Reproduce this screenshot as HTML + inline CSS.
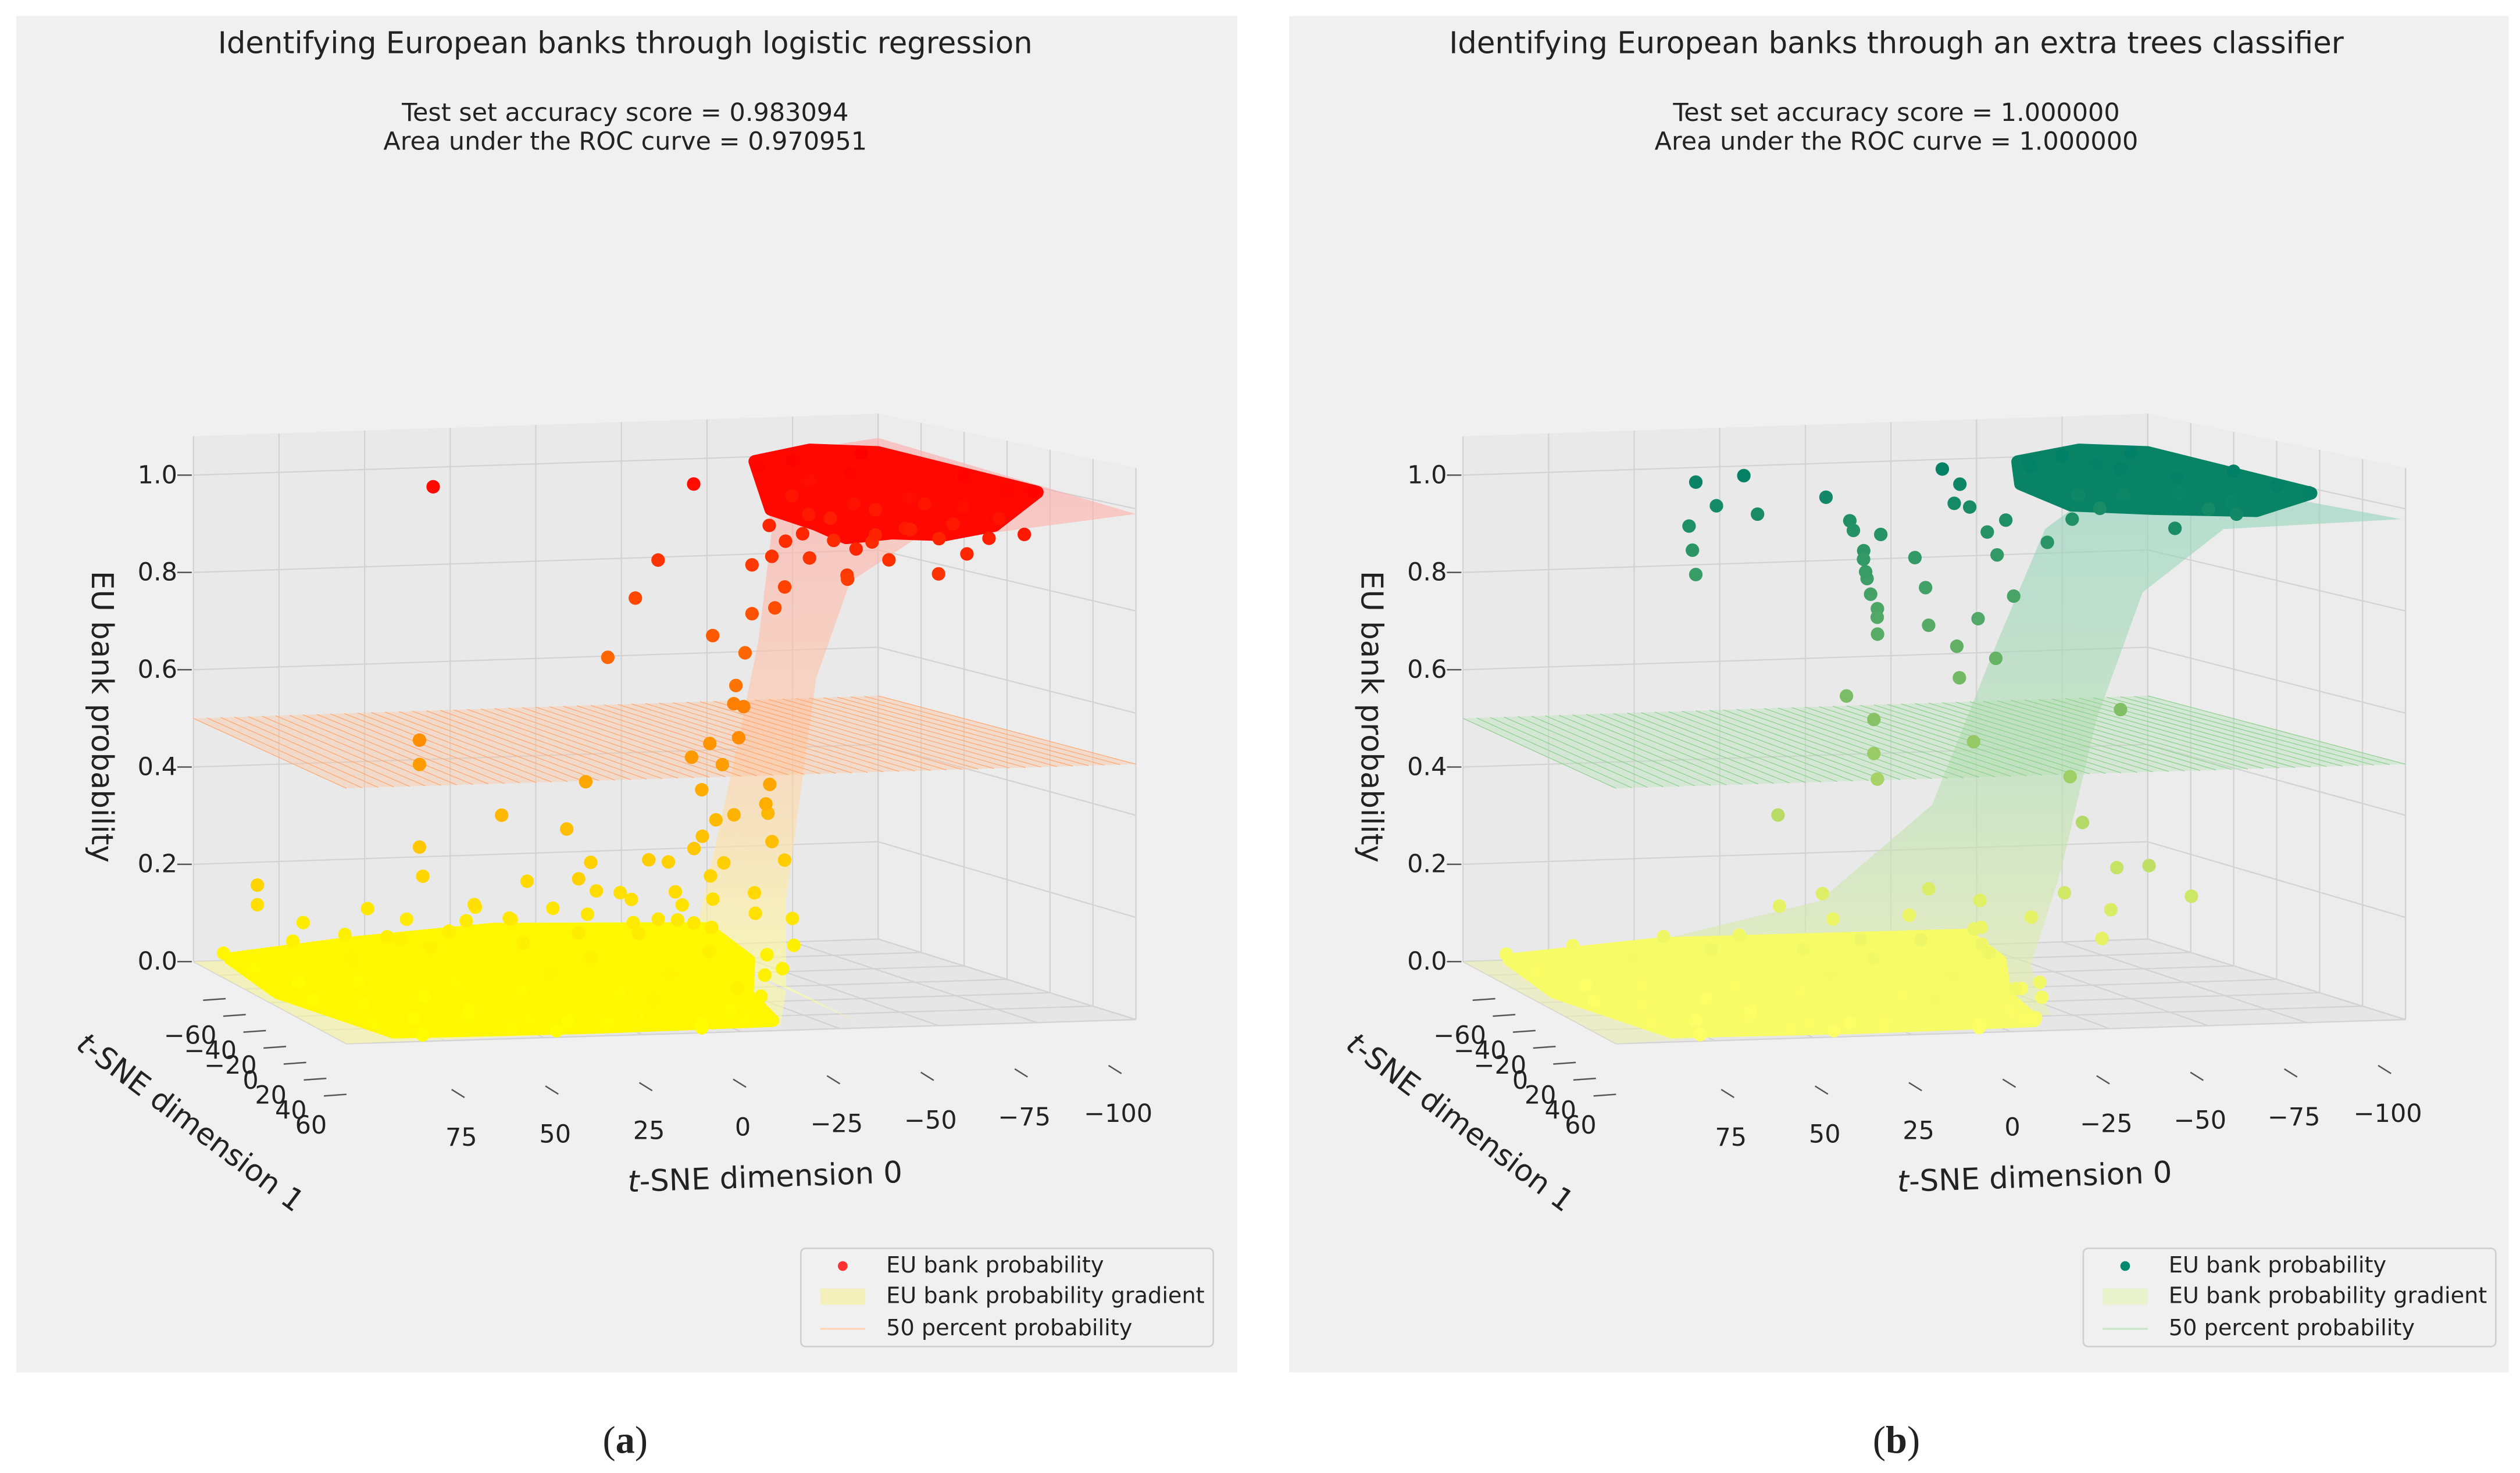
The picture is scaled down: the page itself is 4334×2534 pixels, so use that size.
<!DOCTYPE html>
<html><head><meta charset="utf-8"><title>European banks 3D classifiers</title>
<style>html,body{margin:0;padding:0;background:#fff}svg{display:block}text{font-family:"DejaVu Sans","Liberation Sans",sans-serif;fill:#222}</style></head>
<body>
<svg id="fig" xmlns="http://www.w3.org/2000/svg" width="4334" height="2534" viewBox="0 0 1564 914.5">
<defs>
<linearGradient id="ribA" x1="0" y1="290" x2="0" y2="610" gradientUnits="userSpaceOnUse"><stop offset="0" stop-color="#ffaaaa"/><stop offset="0.5" stop-color="#ffc8a8"/><stop offset="1" stop-color="#ffff9a"/></linearGradient>
<linearGradient id="ribB" x1="0" y1="300" x2="0" y2="620" gradientUnits="userSpaceOnUse"><stop offset="0" stop-color="#8fd2bf"/><stop offset="0.6" stop-color="#b9e0b0"/><stop offset="1" stop-color="#e6f0a8"/></linearGradient>
</defs>
<rect x="10" y="10" width="758" height="842" fill="#f0f0f0"/>
<rect x="800" y="10" width="757" height="842" fill="#f0f0f0"/>
<g id="pa"></g>
<g id="pb"></g>
<text x="388" y="33" font-size="18.5" text-anchor="middle">Identifying European banks through logistic regression</text>
<text x="388" y="75" font-size="15.5" text-anchor="middle">Test set accuracy score = 0.983094</text>
<text x="388" y="93" font-size="15.5" text-anchor="middle">Area under the ROC curve = 0.970951</text>
<text x="1177" y="33" font-size="18.5" text-anchor="middle">Identifying European banks through an extra trees classifier</text>
<text x="1177" y="75" font-size="15.5" text-anchor="middle">Test set accuracy score = 1.000000</text>
<text x="1177" y="93" font-size="15.5" text-anchor="middle">Area under the ROC curve = 1.000000</text>
<text x="388" y="902" font-size="24" text-anchor="middle" style="font-family:'Liberation Serif',serif">(<tspan font-weight="bold">a</tspan>)</text>
<text x="1177" y="902" font-size="24" text-anchor="middle" style="font-family:'Liberation Serif',serif">(<tspan font-weight="bold">b</tspan>)</text>
</svg>
<script>
// ---- data (t-SNE dim0, t-SNE dim1, probability) ----
const x0Ticks=[100,75,50,25,0,-25,-50,-75,-100];
const x0TickLabels=["","75","50","25","0","\u221225","\u221250","\u221275","\u2212100"];
const x1Ticks=[-60,-40,-20,0,20,40,60];
const x1TickLabels=["\u221260","\u221240","\u221220","0","20","40","60"];
const zTicks=[0,0.2,0.4,0.6,0.8,1.0];
const zTickLabels=["0.0","0.2","0.4","0.6","0.8","1.0"];

const logitPoints=[
[-65,-60,.98],[-75,-60,.99],[-85,-60,.97],[-95,-60,1],[-70,-45,.96],[-80,-40,.98],[-90,-30,.97],[-100,-20,.99],[-100,0,.98],[-100,12,.99],[-95,-10,.96],[-85,-20,.95],[-75,-30,.93],[-68,-40,.9],[-72,-50,.85],[-66,-55,.8],[-80,-50,.88],[-90,-45,.9],[-98,-35,.92],[-88,0,.95],[-78,-10,.9],[-70,-20,.85],[-95,5,.93],[-100,8,.9],[-92,-5,.85],[-82,-25,.82],[-76,-35,.78],[-64,-50,.7],[-60,-58,.6],[-90,-15,.8],[-96,-25,.86],[-86,-40,.84],[-73,-57,.92],[-79,-58,.95],
[-67,-58,.86],[-70,-55,.83],[-74,-50,.8],[-78,-45,.84],[-84,-35,.86],[-88,-25,.88],[-94,-15,.9],[-98,-5,.88],[-62,-58,.78],[-68,-52,.74],[-82,-45,.76],
[30,-60,.96],[-45,-58,.95],[-33,-55,.8],[-20,-58,.6],[-55,-55,.5],[-28,-58,.72],[-62,-58,.68],
[-45,-48,.65],[-50,-45,.55],[-55,-50,.5],[-48,-40,.45],[-40,-50,.4],[-58,-42,.35],[-44,-35,.3],[-52,-30,.25],[-38,-45,.22],[-60,-38,.2],[-46,-28,.15],[-42,-20,.12],[-55,-25,.1],[-35,-30,.08],[-50,-15,.06],[-40,-10,.05],[-62,-50,.28],[-36,-55,.18],[-30,-40,.14],[-25,-45,.2],[-20,-30,.1],[-48,-55,.42],[-53,-35,.32],
[-44,-52,.33],[-47,-50,.27],[-42,-48,.24],[-50,-52,.38],[-46,-44,.19],[-40,-40,.17],[-38,-35,.13],[-33,-42,.11],[-28,-35,.09],
[34,-60,.44],[34,-60,.39],[33,-60,.16],[34,-60,.22],[86,-48,.17],[86,-48,.13],[10,-60,.28],[5,-55,.15],[-8,-58,.25],[-12,-55,.35],[-15,-58,.18],[-22,-55,.12],[20,-55,.1],[12,-50,.08],[40,-55,.08],[25,-45,.12],[60,-50,.06],[-5,-40,.1],[0,-35,.18],
[70,-55,.08],[50,-58,.1],[30,-50,.06],[15,-45,.09],[-10,-45,.14],[-18,-40,.08],[45,-48,.05],
[92,-35,.02],[85,-20,.01],[78,-35,.03],[72,-10,.02],[66,-30,.04],[60,5,.01],[55,-25,.03],[48,-5,.02],[42,-35,.05],[36,10,.02],[30,-20,.03],[24,0,.04],[18,-30,.06],[12,15,.02],[6,-15,.05],[0,-35,.07],[-6,5,.04],[-12,-25,.08],[-18,20,.03],[-24,-10,.06],[-30,-30,.09],[-34,10,.05],
[90,5,.01],[82,20,.02],[74,35,.01],[68,15,.03],[62,40,.02],[56,25,.01],[50,50,.02],[44,30,.03],[38,45,.01],[32,55,.02],[26,35,.03],[20,50,.02],[14,40,.04],[8,55,.01],[2,30,.03],[-4,45,.02],[-10,35,.05],[-8,55,.02],[-14,40,.04],[-22,25,.06],[-10,48,.03],
[88,45,.02],[80,58,.01],[70,52,.03],[58,60,.02],[46,58,.01],[34,60,.02],[22,58,.03],[10,60,.01],[-2,58,.02],[-6,60,.03],
[95,-50,.03],[75,-50,.05],[50,-45,.06],[25,-50,.08],[0,-50,.1],[-20,-45,.12]
];
const treesPoints=[
[-65,-60,.99],[-75,-60,1],[-85,-60,.98],[-95,-60,1],[-70,-45,.97],[-80,-40,.99],[-90,-30,.98],[-100,-20,1],[-100,0,.99],[-100,15,.99],[-95,-10,.97],[-85,-20,.96],[-75,-30,.95],[-68,-40,.94],[-88,0,.96],[-92,-5,.93],[-80,-50,.9],[-72,-50,.88],[-96,-25,.92],[-78,-10,.9],
[32,-60,.97],[18,-60,.98],[34,-60,.88],[33,-60,.83],[32,-60,.78],[26,-60,.92],[14,-60,.9],[-6,-60,.93],
[-13,-60,.88],[-16,-58,.82],[-18,-60,.76],[-20,-58,.7],[-22,-60,.85],[-15,-55,.78],[-19,-56,.65],[-32,-60,.8],[-34,-58,.74],[-36,-60,.66],
[-14,-60,.86],[-17,-60,.8],[-18,-58,.73],[-21,-60,.68],
[-40,-60,.98],[-44,-58,.95],[-48,-60,.9],[-52,-58,.85],[-56,-60,.8],[-58,-55,.72],[-46,-52,.68],[-42,-56,.62],[-50,-50,.6],[-54,-52,.88],[-38,-50,.92],[-60,-50,.99],[-62,-45,.84],
[-12,-60,.52],[-20,-60,.47],[-20,-60,.4],[8,-60,.28],[-20,-58,.35],[-45,-60,.55],[-48,-58,.42],[-80,-40,.5],[-60,-30,.38],
[-58,-20,.3],[-62,-10,.22],[-55,0,.15],[-60,10,.25],[-50,5,.1],[-45,-5,.18],[-66,20,.2],[-40,-40,.12],[-35,-30,.08],[-30,-20,.06],[-28,-45,.14],[-25,-50,.08],[-48,-28,.1],
[10,-55,.1],[0,-50,.13],
[90,-30,.02],[82,-15,.01],[76,-35,.03],[70,-5,.02],[64,-28,.04],[58,8,.01],[52,-22,.03],[46,-2,.02],[40,-32,.05],[34,12,.02],[28,-18,.03],[22,2,.04],[16,-28,.05],[10,18,.02],[4,-12,.05],[-2,-32,.06],[-8,8,.04],[-14,-22,.07],[-20,22,.03],[-26,-8,.06],[-32,-28,.08],
[88,8,.01],[80,22,.02],[72,38,.01],[66,18,.03],[60,42,.02],[54,28,.01],[48,52,.02],[42,32,.03],[36,48,.01],[30,56,.02],[24,38,.03],[18,52,.02],[12,42,.04],[6,56,.01],[0,32,.03],[-6,46,.02],[-12,36,.05],[-8,56,.02],[-16,42,.04],[-22,28,.05],
[86,46,.02],[78,58,.01],[68,54,.03],[56,60,.02],[44,58,.01],[32,60,.02],[20,58,.03],[8,60,.01],[-4,58,.02],
[92,-48,.03],[72,-50,.04],[48,-45,.06],[24,-50,.05],[-2,-48,.08]
];
// dense-region outlines
const logitYellowArea=[[96,-42,.03],[60,-45,.05],[20,-44,.07],[-40,-42,.06],[-35,-10,.04],[-15,30,.03],[-8,60,.02],[40,62,.02],[88,60,.02],[98,0,.02]];
const logitRedArea=[[-64,-60,.99],[-80,-60,1.01],[-100,-60,1],[-100,14,.99],[-92,8,.92],[-86,-5,.89],[-80,-20,.88],[-74,-32,.86],[-70,-40,.88],[-64,-52,.9]];
const treesYellowArea=[[94,-40,.03],[50,-42,.05],[-36,-40,.05],[-30,-10,.04],[-12,30,.03],[-6,60,.02],[40,62,.02],[86,60,.02],[96,0,.02]];
const treesGreenArea=[[-62,-60,.99],[-80,-60,1.01],[-100,-60,1],[-100,16,.99],[-90,8,.95],[-78,-20,.93],[-66,-40,.92],[-60,-55,.95]];
// fitted probability surfaces (edge profiles)
const logitSurface=[[-46,-60,0],[-58,-60,.38],[-65,-60,.62],[-69,-60,.85],[-65,-60,1],[-100,-60,1.03],[-100,60,.99],[-80,30,.93],[-64,20,.91],[-47,20,.83],[-38,20,.64],[-34,20,.42],[-30,20,.2],[-30,20,.03],[-30,60,.01]];
const logitFloor=[[100,-60,0],[-45,-60,0],[-30,20,.02],[-10,60,.01],[100,60,0]];
const treesSurface=[[57,-60,.01],[-4,-60,.1],[-37,-60,.29],[-56,-60,.62],[-70,-60,.85],[-84,-60,.92],[-100,-60,.96],[-99,60,.98],[-64,40,.95],[-43,40,.83],[-31,40,.58],[-22,40,.29],[-14,40,.1],[-10,60,.03],[60,60,.02]];
const treesFloor=[[100,-60,0],[57,-60,0],[60,60,.01],[100,60,0]];

const NS='http://www.w3.org/2000/svg';
function proj(x0,x1,p,dx){
  const u=(100-x0)/200, v=(x1+60)/120;
  const bx=120+425*u, by=597-14*u, fx=215+490*u, fy=648-15*u;
  return [bx+(fx-bx)*v+dx, by+(fy-by)*v-p*302*(1+0.05*v)];
}
function mk(tag,parent,attrs){const e=document.createElementNS(NS,tag);for(const k in attrs)e.setAttribute(k,attrs[k]);parent.appendChild(e);return e;}
function poly(arr,dx){return arr.map(d=>proj(d[0],d[1],d[2],dx).map(n=>n.toFixed(1)).join(',')).join(' ');}
function line(g,a,b,col,w){return mk('line',g,{x1:a[0],y1:a[1],x2:b[0],y2:b[1],stroke:col,'stroke-width':w});}

function drawPanel(g,dx,cfg){
  const ZM=1.08;
  let e;
  e=mk('polygon',g,{points:poly([[100,-60,0],[-100,-60,0],[-100,-60,ZM],[100,-60,ZM]],dx),fill:'#e9e9e9'});
  
  
  e=mk('polygon',g,{points:poly([[-100,-60,0],[-100,60,0],[-100,60,ZM],[-100,-60,ZM]],dx),fill:'#ececec'});
  
  
  e=mk('polygon',g,{points:poly([[100,-60,0],[-100,-60,0],[-100,60,0],[100,60,0]],dx),fill:'#e6e6e6'});
  
  
  const grid=mk('g',g,{});
  
  
  const gc='#d2d2d2';
  x0Ticks.forEach(t=>{line(grid,proj(t,-60,0,dx),proj(t,-60,ZM,dx),gc,.8);line(grid,proj(t,-60,0,dx),proj(t,60,0,dx),gc,.8);});
  x1Ticks.forEach(t=>{line(grid,proj(-100,t,0,dx),proj(-100,t,ZM,dx),gc,.8);line(grid,proj(100,t,0,dx),proj(-100,t,0,dx),gc,.8);});
  zTicks.forEach(t=>{line(grid,proj(100,-60,t,dx),proj(-100,-60,t,dx),gc,.8);line(grid,proj(-100,-60,t,dx),proj(-100,60,t,dx),gc,.8);});
  zTicks.forEach((t,i)=>{const p=proj(100,-60,t,dx);line(g,[p[0]-10,p[1]],[p[0]-1,p[1]],'#555',.9);
    const tx=mk('text',g,{x:p[0]-10,y:p[1]+5,'font-size':15.5,'text-anchor':'end'});tx.textContent=zTickLabels[i];
    
    });
  x0Ticks.forEach((t,i)=>{if(!x0TickLabels[i])return;const lx=461-t*2.33+dx, ly=700+0.085*t;
    line(g,[lx-6,ly-30],[lx+2,ly-25],'#555',.9);
    const tx=mk('text',g,{x:lx,y:ly+5,'font-size':15.5,'text-anchor':'middle'});tx.textContent=x0TickLabels[i];
    
    });
  x1Ticks.forEach((t,i)=>{const k=(t+60)/20;const lx=118+k*12.5+dx, ly=643+k*9.3;
    line(g,[lx+8,ly-22+k*0.6],[lx+22,ly-23+k*0.6],'#555',.9);
    const tx=mk('text',g,{x:lx,y:ly+5,'font-size':15.5,'text-anchor':'middle'});tx.textContent=x1TickLabels[i];
    
    });
  e=mk('polygon',g,{points:poly(cfg.floor,dx),fill:cfg.floorCol,opacity:.55});
  
  
  e=mk('polygon',g,{points:poly(cfg.surface,dx),fill:cfg.ribbon,opacity:.6});
  
  
  const pl=mk('g',g,{});
  
  
  mk('polygon',pl,{points:poly([[100,-60,.5],[-100,-60,.5],[-100,60,.5],[100,60,.5]],dx),fill:cfg.planeCol,opacity:.4});
  for(let t=100;t>=-100;t-=4){line(pl,proj(t,-60,.5,dx),proj(t,60,.5,dx),cfg.planeLine,.45);}
  e=mk('polygon',g,{points:poly(cfg.lowArea,dx),fill:cfg.color(0.03),stroke:cfg.color(0.03),'stroke-width':8,'stroke-linejoin':'round'});
  
  
  e=mk('polygon',g,{points:poly(cfg.highArea,dx),fill:cfg.color(0.97),stroke:cfg.color(0.97),'stroke-width':8,'stroke-linejoin':'round'});
  
  
  const pts=mk('g',g,{});
  
  
  cfg.points.forEach(d=>{const p=proj(d[0],d[1],d[2],dx);const c=mk('circle',pts,{cx:p[0].toFixed(1),cy:p[1].toFixed(1),r:4.2,fill:cfg.color(d[2])});
    
    });
  let t=mk('text',g,{x:57+dx,y:445,'font-size':18.5,'text-anchor':'middle',transform:`rotate(90 ${57+dx} 445)`});t.textContent='EU bank probability';
  
  
  t=mk('text',g,{x:475+dx,y:737,'font-size':18.5,'text-anchor':'middle',transform:`rotate(-2 ${475+dx} 737)`});
  t.innerHTML='<tspan font-style="italic">t</tspan>-SNE dimension 0';
  
  
  t=mk('text',g,{x:118+dx,y:703,'font-size':18.5,'text-anchor':'middle',transform:`rotate(37 ${118+dx} 697)`});
  t.innerHTML='<tspan font-style="italic">t</tspan>-SNE dimension 1';
  
  
  const lg=mk('g',g,{});
  
  
  const lx=cfg.legX;
  mk('rect',lg,{x:lx,y:775,width:256,height:61,rx:3,fill:'#f0f0f0',stroke:'#cfcfcf','stroke-width':1});
  mk('circle',lg,{cx:lx+26,cy:786,r:3,fill:cfg.legDot});
  mk('rect',lg,{x:lx+12,y:800,width:28,height:10,fill:cfg.legPatch});
  line(lg,[lx+12,825],[lx+40,825],cfg.legLine,1.2);
  [['EU bank probability',790],['EU bank probability gradient',809],['50 percent probability',829]].forEach(a=>{
    const tx=mk('text',lg,{x:lx+53,y:a[1],'font-size':13.8});tx.textContent=a[0];
    
    });
}
drawPanel(document.getElementById('pa'),0,{
  points:logitPoints,surface:logitSurface,floor:logitFloor,lowArea:logitYellowArea,highArea:logitRedArea,
  ribbon:'url(#ribA)',floorCol:'#fbfa9c',planeCol:'#ffc49a',planeLine:'#ffa770',
  color:p=>`rgb(255,${Math.round(255*(1-p))},0)`,legX:497,legDot:'#ff3030',legPatch:'#f4f0bc',legLine:'#ffd6b8'});
drawPanel(document.getElementById('pb'),788,{
  points:treesPoints,surface:treesSurface,floor:treesFloor,lowArea:treesYellowArea,highArea:treesGreenArea,
  ribbon:'url(#ribB)',floorCol:'#eef3b0',planeCol:'#b4e0b4',planeLine:'#8fd08f',
  color:p=>{const x=1-p;return `rgb(${Math.round(255*x)},${Math.round(255*(0.5+x/2))},102)`;},legX:1293,legDot:'#008a70',legPatch:'#eaf2cc',legLine:'#c8e6c8'});
</script>
</body></html>
